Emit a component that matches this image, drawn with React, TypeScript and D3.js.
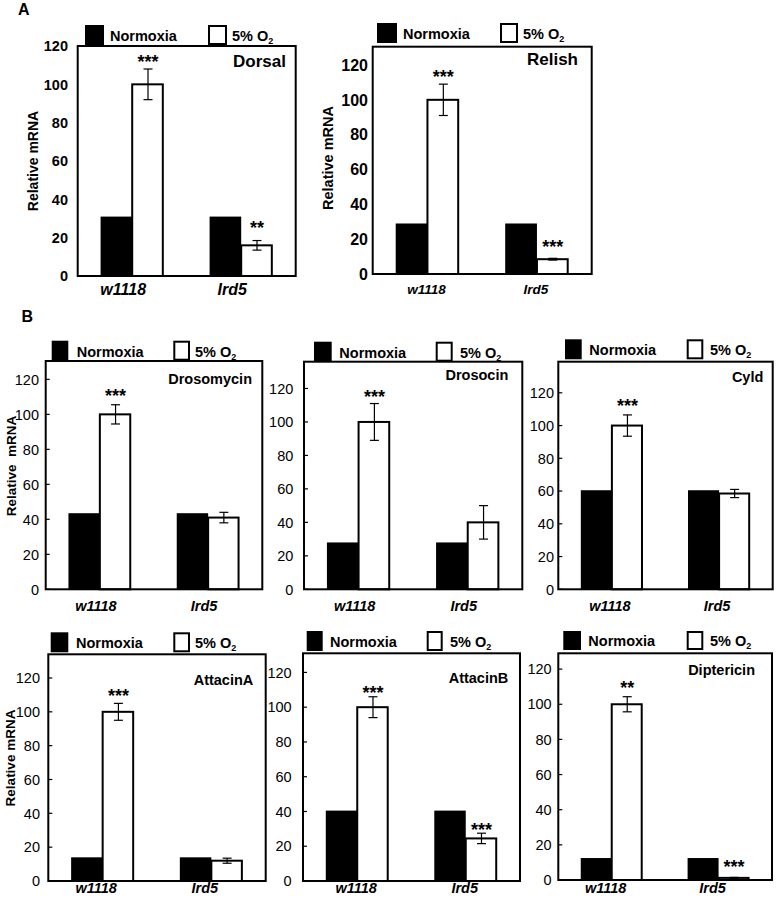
import React from "react";
import * as d3 from "d3";

// ---------- data ----------
const genes = ["Dorsal", "Relish", "Drosomycin", "Drosocin", "Cyld", "AttacinA", "AttacinB", "Diptericin"];
const genotypes = ["w1118", "Ird5"];
const conditions = ["Normoxia", "5% O2"];
const normoxiaValues = [
  [31, 31], [29, 29], [43.5, 43.5], [28, 28], [60.5, 60.5], [14, 14], [40.5, 40.5], [12.5, 12.5],
];
const hypoxiaValues = [
  [100, 16], [100, 8.5], [100, 41], [100, 40], [100, 58.5], [100, 12], [100, 24.5], [100, 1.2],
];
const hypoxiaErrors = [
  [8, 2.5], [9, 0.5], [5.5, 3], [11, 10], [6.5, 2.5], [5, 1.5], [6, 3], [4.3, 0.3],
];
const significance = [
  ["***", "**"], ["***", "***"], ["***", ""], ["***", ""], ["***", ""], ["***", ""], ["***", "***"], ["**", "***"],
];
const yDomainMax = [120, 130.5, 130.5, 136, 139, 134, 131, 129];
const yTickValues = [0, 20, 40, 60, 80, 100, 120];
const panelLetters = ["A", "B"];

// ---------- layout ----------
type Layout = {
  left: number; right: number; top: number; bottom: number;
  boldTicks: boolean; tickSize: number; tickEnd: number; innerTicks: boolean;
  yLabel?: { x: number; y: number; size: number; text: string };
  gene: { x: number; y: number; size: number };
  legend: { bx: number; bw: number; by: number; bh: number; tx: number; wx: number; ww: number; wtx: number; size: number };
  xLab: { y: number; shift: number; size: number };
  starDy: number[];
};

const layouts: Layout[] = [
  {
    left: 77.7, right: 295.7, top: 46, bottom: 276, boldTicks: true, tickSize: 14.5, tickEnd: 68, innerTicks: false,
    yLabel: { x: 38, y: 161, size: 14, text: "Relative mRNA" },
    gene: { x: 286, y: 67, size: 17 },
    legend: { bx: 85, bw: 19, by: 25, bh: 20, tx: 110, wx: 208, ww: 19, wtx: 232, size: 14.5 },
    xLab: { y: 295, shift: -9, size: 16 }, starDy: [-12, -17],
  },
  {
    left: 372.7, right: 591.7, top: 46.7, bottom: 274, boldTicks: true, tickSize: 16, tickEnd: 368, innerTicks: false,
    yLabel: { x: 333, y: 158, size: 14.5, text: "Relative mRNA" },
    gene: { x: 578, y: 65, size: 17 },
    legend: { bx: 377, bw: 20, by: 23, bh: 20, tx: 403, wx: 500, ww: 18, wtx: 523, size: 14.5 },
    xLab: { y: 293.5, shift: -1, size: 13.5 }, starDy: [-12, -16],
  },
  {
    left: 45.7, right: 262.3, top: 361, bottom: 589.3, boldTicks: false, tickSize: 14.5, tickEnd: 39, innerTicks: true,
    yLabel: { x: 16, y: 466, size: 13.5, text: "Relative  mRNA" },
    gene: { x: 252, y: 384, size: 14.5 },
    legend: { bx: 51.7, bw: 16.6, by: 340.7, bh: 20, tx: 76.7, wx: 173.3, ww: 16.7, wtx: 195, size: 14.5 },
    xLab: { y: 611, shift: -4, size: 14.5 }, starDy: [-13, -12],
  },
  {
    left: 304, right: 522.3, top: 361.7, bottom: 589.3, boldTicks: false, tickSize: 14.5, tickEnd: 293.3, innerTicks: true,
    gene: { x: 508.3, y: 380, size: 14.5 },
    legend: { bx: 314, bw: 17.7, by: 341.7, bh: 20, tx: 339.3, wx: 435.7, ww: 17, wtx: 460, size: 14.5 },
    xLab: { y: 611, shift: -4, size: 14.5 }, starDy: [-11, -12],
  },
  {
    left: 558.3, right: 772.7, top: 361.7, bottom: 589.3, boldTicks: false, tickSize: 14.5, tickEnd: 554, innerTicks: true,
    gene: { x: 763.3, y: 381.7, size: 14.5 },
    legend: { bx: 565, bw: 16.7, by: 339.3, bh: 20, tx: 589.3, wx: 686.7, ww: 16.6, wtx: 710, size: 14.5 },
    xLab: { y: 611, shift: -2, size: 14.5 }, starDy: [-13, -12],
  },
  {
    left: 48.3, right: 265.7, top: 654.3, bottom: 881, boldTicks: false, tickSize: 14.5, tickEnd: 40, innerTicks: true,
    yLabel: { x: 15, y: 758, size: 13.5, text: "Relative mRNA" },
    gene: { x: 253.3, y: 685, size: 14.5 },
    legend: { bx: 50.7, bw: 17.6, by: 632.3, bh: 20, tx: 76, wx: 173.3, ww: 16.7, wtx: 195, size: 14.5 },
    xLab: { y: 892.5, shift: -6.5, size: 14.5 }, starDy: [-12, -12],
  },
  {
    left: 303, right: 520, top: 653.3, bottom: 881, boldTicks: false, tickSize: 14.5, tickEnd: 291.7, innerTicks: true,
    gene: { x: 508.3, y: 683.3, size: 14.5 },
    legend: { bx: 306.7, bw: 16, by: 631, bh: 20, tx: 330, wx: 426.7, ww: 16, wtx: 450, size: 14.5 },
    xLab: { y: 893, shift: -1, size: 14.5 }, starDy: [-8, -8],
  },
  {
    left: 558.3, right: 772, top: 653.3, bottom: 880, boldTicks: false, tickSize: 14.5, tickEnd: 551.7, innerTicks: true,
    gene: { x: 755, y: 675, size: 14.5 },
    legend: { bx: 563.3, bw: 17.7, by: 631, bh: 19, tx: 588.3, wx: 686.7, ww: 16.6, wtx: 710, size: 14.5 },
    xLab: { y: 892.5, shift: -6, size: 14.5 }, starDy: [-13, -15],
  },
];

const FONT = "'Liberation Sans', Arial, Helvetica, sans-serif";

function Panel({ gi }: { gi: number }) {
  const L = layouts[gi];
  const x0 = d3.scaleBand<string>().domain(genotypes).range([L.left, L.right]).paddingInner(0.42).paddingOuter(0.21);
  const x1 = d3.scaleBand<string>().domain(conditions).range([0, x0.bandwidth()]).padding(0);
  const y = d3.scaleLinear().domain([0, yDomainMax[gi]]).range([L.bottom, L.top]);
  const lg = L.legend;
  return (
    <g fontFamily={FONT}>
      {/* legend */}
      <rect x={lg.bx} y={lg.by} width={lg.bw} height={lg.bh} fill="#000" />
      <text x={lg.tx} y={lg.by + lg.bh - 4} fontSize={lg.size} fontWeight="bold">{conditions[0]}</text>
      <rect x={lg.wx + 1} y={lg.by + 1} width={lg.ww - 2} height={lg.bh - 2} fill="#fff" stroke="#000" strokeWidth={2} />
      <text x={lg.wtx} y={lg.by + lg.bh - 4} fontSize={lg.size} fontWeight="bold">
        {conditions[1].slice(0, -1)}
        <tspan fontSize={lg.size * 0.62} dy={3}>{conditions[1].slice(-1)}</tspan>
      </text>
      {/* bars */}
      {genotypes.map((g, k) => {
        const xb = x0(g)!;
        const xn = xb + x1(conditions[0])!;
        const xh = xb + x1(conditions[1])!;
        const bw = x1.bandwidth();
        const nv = normoxiaValues[gi][k];
        const hv = hypoxiaValues[gi][k];
        const he = hypoxiaErrors[gi][k];
        const cx = xh + bw / 2;
        return (
          <g key={g}>
            <rect x={xn} y={y(nv)} width={bw} height={L.bottom - y(nv)} fill="#000" />
            <rect x={xh} y={y(hv)} width={bw - 1} height={L.bottom - y(hv)} fill="#fff" stroke="#000" strokeWidth={2} />
            <line x1={cx} x2={cx} y1={y(hv + he)} y2={y(hv - he)} stroke="#000" strokeWidth={1.2} />
            <line x1={cx - 4.5} x2={cx + 4.5} y1={y(hv + he)} y2={y(hv + he)} stroke="#000" strokeWidth={1.2} />
            <line x1={cx - 4.5} x2={cx + 4.5} y1={y(hv - he)} y2={y(hv - he)} stroke="#000" strokeWidth={1.2} />
            {significance[gi][k] && (
              <text x={cx} y={y(hv + he) + L.starDy[k] + 10.5} textAnchor="middle" fontSize={18} fontWeight="bold">
                {significance[gi][k]}
              </text>
            )}
            <text x={xb + x0.bandwidth() / 2 + L.xLab.shift} y={L.xLab.y} textAnchor="middle"
              fontSize={L.xLab.size} fontWeight="bold" fontStyle="italic">{g}</text>
          </g>
        );
      })}
      {/* frame */}
      <rect x={L.left} y={L.top} width={L.right - L.left} height={L.bottom - L.top} fill="none" stroke="#000" strokeWidth={2} />
      {/* y ticks */}
      {yTickValues.map((t) => (
        <g key={t}>
          {L.innerTicks && <line x1={L.left} x2={L.left + 4} y1={y(t)} y2={y(t)} stroke="#000" strokeWidth={1.2} />}
          <text x={L.tickEnd} y={y(t)} dy="0.36em" textAnchor="end" fontSize={L.tickSize}
            fontWeight={L.boldTicks ? "bold" : "normal"}>{t}</text>
        </g>
      ))}
      {/* y label */}
      {L.yLabel && (
        <text transform={`translate(${L.yLabel.x},${L.yLabel.y}) rotate(-90)`} textAnchor="middle"
          fontSize={L.yLabel.size} fontWeight="bold" style={{ whiteSpace: "pre" }}>{L.yLabel.text}</text>
      )}
      {/* gene name */}
      <text x={L.gene.x} y={L.gene.y} textAnchor="end" fontSize={L.gene.size} fontWeight="bold">{genes[gi]}</text>
    </g>
  );
}

export default function App() {
  return (
    <div style={{ position: "absolute", left: 0, top: 0 }}>
      <svg width={776} height={902} style={{ display: "block", background: "#fff" }}>
        <rect width={776} height={902} fill="#fff" />
        <text x={18} y={15} fontFamily={FONT} fontSize={16} fontWeight="bold">{panelLetters[0]}</text>
        <text x={21.5} y={322} fontFamily={FONT} fontSize={16} fontWeight="bold">{panelLetters[1]}</text>
        {genes.map((_, i) => <Panel key={i} gi={i} />)}
      </svg>
    </div>
  );
}
